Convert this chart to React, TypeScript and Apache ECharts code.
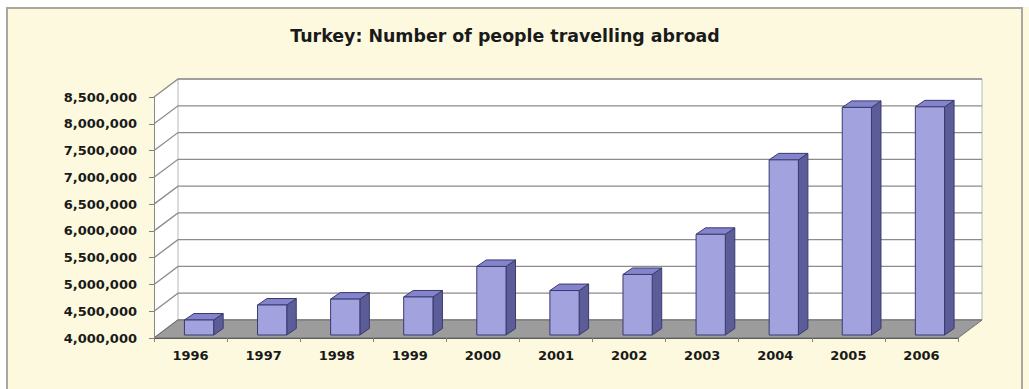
import React, { useEffect, useRef } from "react";
import * as echarts from "echarts";

const chartTitle = "Turkey: Number of people travelling abroad";
const categories = ["1996", "1997", "1998", "1999", "2000", "2001", "2002", "2003", "2004", "2005", "2006"];
const travellers = [4280000, 4560000, 4670000, 4710000, 5280000, 4830000, 5130000, 5880000, 7270000, 8250000, 8260000];
const yTicks = [4000000, 4500000, 5000000, 5500000, 6000000, 6500000, 7000000, 7500000, 8000000, 8500000];

const Y_MIN = yTicks[0];
const Y_MAX = yTicks[yTicks.length - 1];
const Y_STEP = yTicks[1] - yTicks[0];

// oblique depth of the 3-D box
const DX = 24;
const DY = -18;
// bar placement inside the depth
const BAR_OX = 8.5;
const BAR_OY = -3;
const BAR_DX = 9.5;
const BAR_DY = -6.5;

const FONT = "DejaVu Sans";

function fmt(v: number): string {
  return String(v).replace(/\B(?=(\d{3})+(?!\d))/g, ",");
}

export default function App() {
  const ref = useRef<HTMLDivElement>(null);

  useEffect(() => {
    if (!ref.current) return;
    const chart = echarts.init(ref.current, undefined, { renderer: "svg" });

    const option: any = {
      animation: false,
      backgroundColor: "#FCF9DE",
      graphic: [
        { type: "rect", shape: { x: 0, y: 0, width: 1029, height: 7 }, style: { fill: "#ffffff" }, silent: true },
        { type: "rect", shape: { x: 0, y: 0, width: 6, height: 389 }, style: { fill: "#ffffff" }, silent: true },
        {
          type: "rect",
          shape: { x: 7, y: 8, width: 1015, height: 420 },
          style: { fill: "none", stroke: "#A8A8A0", lineWidth: 2 },
          silent: true,
        },
      ],
      title: {
        text: chartTitle,
        left: 500,
        top: 22,
        textAlign: "center",
        textStyle: { fontFamily: FONT, fontWeight: "bold", fontSize: 17.4, color: "#1a1a1a" },
      },
      grid: { left: 154, right: 71, top: 97, bottom: 51 },
      xAxis: {
        type: "category",
        data: categories,
        z: 5,
        axisLine: { show: true, lineStyle: { color: "#5a5a5a", width: 1 } },
        axisTick: { show: true, length: 4, lineStyle: { color: "#808080" } },
        axisLabel: {
          interval: 0,
          margin: 11,
          fontFamily: FONT,
          fontWeight: "bold",
          fontSize: 13,
          color: "#1a1a1a",
        },
        splitLine: { show: false },
      },
      yAxis: {
        type: "value",
        min: Y_MIN,
        max: Y_MAX,
        interval: Y_STEP,
        z: 5,
        axisLine: { show: true, lineStyle: { color: "#8a8a8a", width: 1 } },
        axisTick: { show: true, length: 5, lineStyle: { color: "#808080" } },
        axisLabel: {
          margin: 17,
          formatter: (v: number) => fmt(v),
          fontFamily: FONT,
          fontWeight: "bold",
          fontSize: 13,
          color: "#1a1a1a",
        },
        splitLine: { show: false },
      },
      series: [
        {
          type: "custom",
          z: 1,
          clip: false,
          silent: true,
          data: [[0, Y_MIN]],
          renderItem: (params: any, api: any) => {
            const cs = params.coordSys;
            const x0 = cs.x;
            const x1 = cs.x + cs.width;
            const yT = cs.y;
            const yB = cs.y + cs.height;
            const children: any[] = [];
            children.push({
              type: "polygon",
              shape: { points: [[x0, yT], [x0 + DX, yT + DY], [x0 + DX, yB + DY], [x0, yB]] },
              style: { fill: "#ffffff", stroke: "none" },
            });
            children.push({
              type: "rect",
              shape: { x: x0 + DX, y: yT + DY, width: cs.width, height: cs.height },
              style: { fill: "#ffffff", stroke: "#b8b8b8", lineWidth: 1 },
            });
            yTicks.forEach((v) => {
              const y = api.coord([0, v])[1];
              children.push({
                type: "polyline",
                shape: { points: [[x0, y], [x0 + DX, y + DY], [x1 + DX, y + DY]] },
                style: { stroke: "#8c8c8c", lineWidth: 1.3, fill: null },
              });
            });
            children.push({
              type: "polygon",
              shape: { points: [[x0, yB], [x1, yB], [x1 + DX, yB + DY], [x0 + DX, yB + DY]] },
              style: { fill: "#9C9C9C", stroke: "#6e6e6e", lineWidth: 1 },
            });
            return { type: "group", children };
          },
        },
        {
          type: "custom",
          z: 3,
          clip: false,
          data: travellers.map((v, i) => [i, v]),
          renderItem: (params: any, api: any) => {
            const idx = api.value(0);
            const val = api.value(1);
            const top = api.coord([idx, val]);
            const base = api.coord([idx, Y_MIN]);
            const w = api.size([1, 0])[0] * 0.4;
            const l = top[0] - w / 2 + BAR_OX;
            const r = l + w;
            const t = top[1] + BAR_OY;
            const b = base[1] + BAR_OY;
            const edge = "#3a3a70";
            return {
              type: "group",
              children: [
                {
                  type: "polygon",
                  shape: { points: [[r, t], [r + BAR_DX, t + BAR_DY], [r + BAR_DX, b + BAR_DY], [r, b]] },
                  style: { fill: "#5C5C98", stroke: edge, lineWidth: 1 },
                },
                {
                  type: "polygon",
                  shape: { points: [[l, t], [l + BAR_DX, t + BAR_DY], [r + BAR_DX, t + BAR_DY], [r, t]] },
                  style: { fill: "#8484CC", stroke: edge, lineWidth: 1 },
                },
                {
                  type: "rect",
                  shape: { x: l, y: t, width: w, height: b - t },
                  style: { fill: "#A2A2DE", stroke: edge, lineWidth: 1 },
                },
              ],
            };
          },
        },
      ],
    };

    chart.setOption(option);
    return () => chart.dispose();
  }, []);

  return (
    <div
      ref={ref}
      style={{ position: "fixed", left: 0, top: 0, width: 1029, height: 389 }}
    />
  );
}
